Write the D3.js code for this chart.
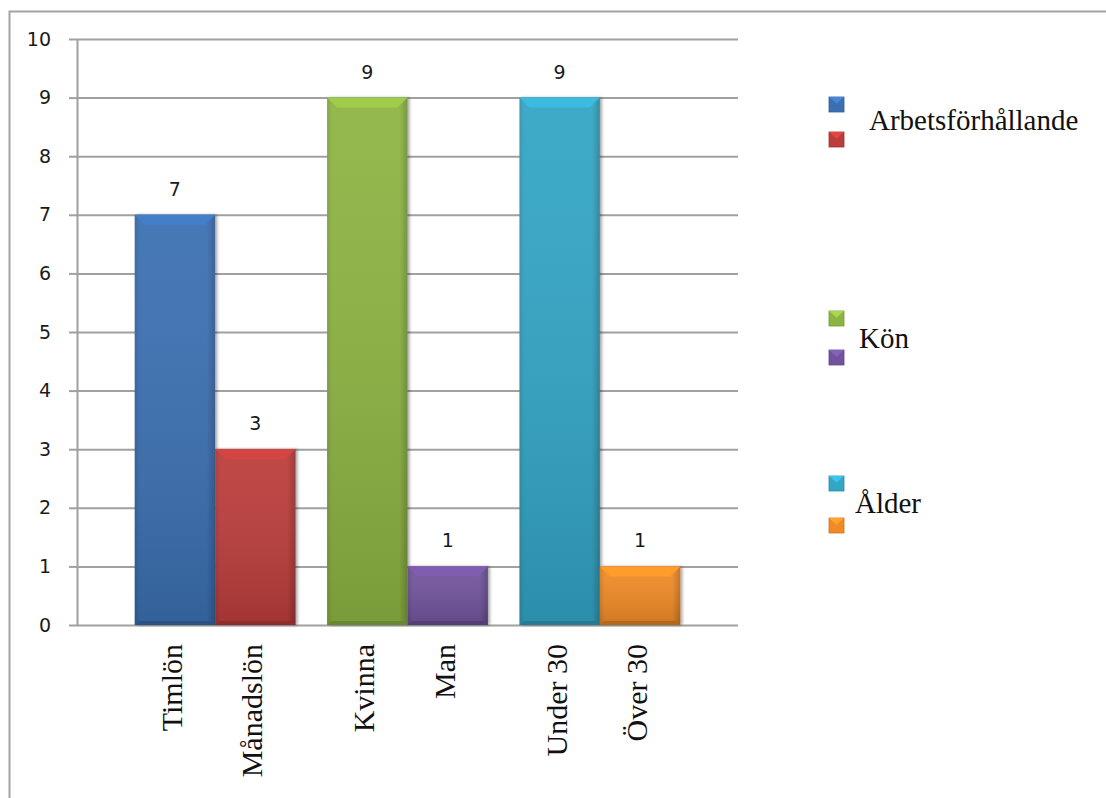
<!DOCTYPE html>
<html>
<head>
<meta charset="utf-8">
<script src="https://cdn.jsdelivr.net/npm/d3@7/dist/d3.min.js"></script>
<style>
  html, body { margin: 0; padding: 0; background: #fff; }
  svg { display: block; }
</style>
</head>
<body>
<svg id="chart" width="1106" height="798"></svg>
<script>
// Survey answers, grouped in pairs
const groups = ["Arbetsförhållande", "Kön", "Ålder"];
const categories = ["Timlön", "Månadslön", "Kvinna", "Man", "Under 30", "Över 30"];
const categoryGroup = ["Arbetsförhållande", "Arbetsförhållande", "Kön", "Kön", "Ålder", "Ålder"];
const values = [7, 3, 9, 1, 9, 1];
const colors = ["#3b6fb2", "#bb3c3a", "#8db443", "#71529c", "#33a5c5", "#f08a26"];
const yTicks = [0, 1, 2, 3, 4, 5, 6, 7, 8, 9, 10];

const svg = d3.select("#chart");
const W = 1106, H = 798;

// frame around the chart area
svg.append("path")
  .attr("d", `M9.5,${H} V11.5 H${W}`)
  .attr("fill", "none").attr("stroke", "#a3a3a3").attr("stroke-width", 2);

const plot = { left: 77, right: 738, top: 39, bottom: 625 };

const y = d3.scaleLinear().domain([0, 10]).range([plot.bottom, plot.top]);
const x0 = d3.scaleBand().domain(groups).range([plot.left, plot.right])
  .paddingInner(0.164).paddingOuter(0.3);
const x1 = d3.scaleBand().domain([0, 1]).range([0, x0.bandwidth()]);

const data = categories.map((c, i) => ({
  name: c, group: categoryGroup[i], value: values[i], color: colors[i],
  slot: categoryGroup.slice(0, i).filter(g => g === categoryGroup[i]).length
}));
const barX = d => x0(d.group) + x1(d.slot);

const numFont = "DejaVu Sans, Verdana, sans-serif";
const serifFont = "Liberation Serif, Times New Roman, serif";

// gridlines
const grid = svg.append("g").attr("transform", `translate(${plot.left},0)`)
  .call(d3.axisLeft(y).tickValues(yTicks).tickSize(-(plot.right - plot.left)).tickFormat(""));
grid.select(".domain").remove();
grid.selectAll("line").attr("stroke", "#a0a0a0").attr("stroke-width", 2);

// y axis
const yAxis = svg.append("g").attr("transform", `translate(${plot.left},0)`)
  .call(d3.axisLeft(y).tickValues(yTicks).tickSize(8).tickPadding(18).tickFormat(d3.format("d")));
yAxis.select(".domain").attr("stroke", "#a0a0a0").attr("stroke-width", 2)
  .attr("d", `M0.5,${plot.top}V${plot.bottom}`);
yAxis.selectAll(".tick line").attr("stroke", "#a0a0a0").attr("stroke-width", 2);
yAxis.selectAll(".tick text")
  .attr("font-family", numFont)
  .attr("font-size", 19).attr("fill", "#1a1a1a");

// gradients for a bevelled look
const defs = svg.append("defs");
const filt = defs.append("filter").attr("id", "shadow").attr("x", "-10%").attr("y", "-10%")
  .attr("width", "130%").attr("height", "130%");
filt.append("feDropShadow").attr("dx", 2).attr("dy", 0).attr("stdDeviation", 1.5)
  .attr("flood-color", "#000").attr("flood-opacity", 0.35);

data.forEach((d, i) => {
  const c = d3.color(d.color);
  const g = defs.append("linearGradient").attr("id", "side" + i)
    .attr("x1", 0).attr("x2", 1).attr("y1", 0).attr("y2", 0);
  g.append("stop").attr("offset", "0%").attr("stop-color", c.darker(0.35));
  g.append("stop").attr("offset", "6%").attr("stop-color", c);
  g.append("stop").attr("offset", "90%").attr("stop-color", c);
  g.append("stop").attr("offset", "100%").attr("stop-color", c.darker(0.6));
});
const vshade = defs.append("linearGradient").attr("id", "vshade")
  .attr("x1", 0).attr("x2", 0).attr("y1", 0).attr("y2", 1);
vshade.append("stop").attr("offset", "0%").attr("stop-color", "#fff").attr("stop-opacity", 0.06);
vshade.append("stop").attr("offset", "100%").attr("stop-color", "#000").attr("stop-opacity", 0.14);

const bev = 10;
const bars = svg.append("g").selectAll("g.bar").data(data).join("g").attr("class", "bar");

bars.append("rect")
  .attr("x", d => barX(d)).attr("y", d => y(d.value))
  .attr("width", x1.bandwidth()).attr("height", d => y(0) - y(d.value))
  .attr("fill", (d, i) => `url(#side${i})`)
  .attr("filter", "url(#shadow)");

bars.append("rect")
  .attr("x", d => barX(d)).attr("y", d => y(d.value))
  .attr("width", x1.bandwidth()).attr("height", d => y(0) - y(d.value))
  .attr("fill", "url(#vshade)");

// top bevel
bars.append("path")
  .attr("d", d => {
    const xa = barX(d), xb = xa + x1.bandwidth(), yt = y(d.value);
    return `M${xa},${yt}H${xb}L${xb - bev},${yt + bev}H${xa + bev}Z`;
  })
  .attr("fill", d => d3.color(d.color).brighter(0.35));

// bottom shade
bars.append("path")
  .attr("d", d => {
    const xa = barX(d), xb = xa + x1.bandwidth(), yb = y(0);
    return `M${xa},${yb}H${xb}L${xb - 4},${yb - 4}H${xa + 4}Z`;
  })
  .attr("fill", d => d3.color(d.color).darker(0.8));

// value labels
bars.append("text")
  .attr("x", d => barX(d) + x1.bandwidth() / 2)
  .attr("y", d => y(d.value) - 19)
  .attr("text-anchor", "middle")
  .attr("font-family", numFont)
  .attr("font-size", 19).attr("fill", "#1a1a1a")
  .text(d => d.value);

// category labels, rotated
svg.append("g").selectAll("text").data(data).join("text")
  .attr("transform", d => `translate(${barX(d) + x1.bandwidth() / 2 + 7},${plot.bottom + 19}) rotate(-90)`)
  .attr("text-anchor", "end")
  .attr("font-family", serifFont)
  .attr("font-size", 30).attr("fill", "#111")
  .text(d => d.name);

// legend: a pair of swatches per group with the group name beside them
const legendRows = [
  { group: "Arbetsförhållande", sw: [97, 132], tx: 869, ty: 130, cols: [0, 1] },
  { group: "Kön", sw: [311, 350], tx: 859, ty: 348, cols: [2, 3] },
  { group: "Ålder", sw: [476, 518], tx: 855, ty: 513, cols: [4, 5] }
];
const leg = svg.append("g");
legendRows.forEach(r => {
  r.cols.forEach((ci, k) => {
    const c = d3.color(colors[ci]);
    const sx = 829, sy = r.sw[k], s = 15;
    leg.append("rect").attr("x", sx).attr("y", sy).attr("width", s).attr("height", s)
      .attr("fill", c).attr("stroke", c.darker(0.5)).attr("stroke-width", 0.8);
    leg.append("path")
      .attr("d", `M${sx},${sy}H${sx + s}L${sx + s / 2},${sy + s * 0.45}Z`)
      .attr("fill", c.brighter(0.5));
  });
  leg.append("text").attr("x", r.tx).attr("y", r.ty)
    .attr("font-family", serifFont)
    .attr("font-size", 29).attr("fill", "#111")
    .text(r.group);
});
</script>
</body>
</html>
